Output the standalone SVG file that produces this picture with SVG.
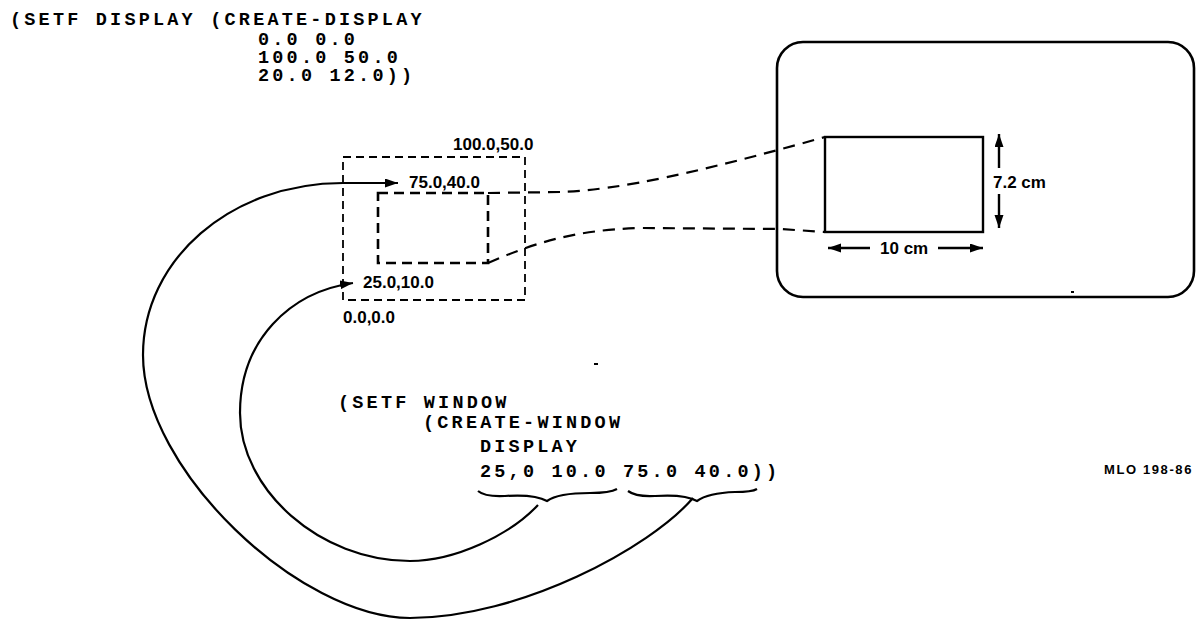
<svg xmlns="http://www.w3.org/2000/svg" width="1196" height="620" viewBox="0 0 1196 620">
<style>
.code{font-family:"Liberation Mono","DejaVu Sans Mono",monospace;font-weight:bold;font-size:18.5px;letter-spacing:3.2px;fill:#000}
.lab{font-family:"Liberation Sans",Arial,sans-serif;font-weight:bold;font-size:17px;fill:#000}
.note{font-family:"Liberation Sans",Arial,sans-serif;font-weight:bold;font-size:13px;letter-spacing:1.6px;fill:#000}
.solid{fill:none;stroke:#000;stroke-width:2.4}
.dashThin{fill:none;stroke:#000;stroke-width:1.8;stroke-dasharray:8 5}
.dashThick{fill:none;stroke:#000;stroke-width:2.6;stroke-dasharray:10 6}
.conn{fill:none;stroke:#000;stroke-width:2.2;stroke-dasharray:12 8}
.curve{fill:none;stroke:#000;stroke-width:2.2}
</style>
<defs>
<marker id="ah" markerUnits="userSpaceOnUse" markerWidth="14" markerHeight="10" refX="13" refY="4.5" orient="auto">
<path d="M0,0 L13,4.5 L0,9 z" fill="#000"/>
</marker>
</defs>
<rect width="1196" height="620" fill="#fff"/>

<g id="display-code">
<text class="code" x="10" y="25">(SETF DISPLAY (CREATE-DISPLAY</text>
<text class="code" x="258" y="45">0.0 0.0</text>
<text class="code" x="258" y="63">100.0 50.0</text>
<text class="code" x="258" y="81">20.0 12.0))</text>
</g>

<g id="display-box">
<rect class="dashThin" x="343" y="157" width="182" height="143"/>
<text class="lab" x="453" y="150">100.0,50.0</text>
<text class="lab" x="343" y="323">0.0,0.0</text>
</g>

<g id="window-box">
<rect class="dashThick" x="378" y="193" width="110" height="70"/>
<text class="lab" x="409" y="188">75.0,40.0</text>
<text class="lab" x="363" y="288">25.0,10.0</text>
</g>

<g id="screen">
<rect x="777" y="42" width="417" height="255" rx="26" ry="26" fill="none" stroke="#000" stroke-width="2.6"/>
<rect class="solid" x="825" y="137" width="158" height="95"/>
<text class="lab" x="993" y="188">7.2 cm</text>
<text class="lab" x="880" y="254">10 cm</text>
<rect x="1071" y="291" width="3" height="2" fill="#000"/>
</g>

<g id="window-code">
<text class="code" x="338" y="408">(SETF WINDOW</text>
<text class="code" x="423" y="428">(CREATE-WINDOW</text>
<text class="code" x="480" y="452">DISPLAY</text>
<text class="code" x="480" y="477">25,0 10.0 75.0 40.0))</text>
<path class="curve" stroke-width="2.6" d="M478,491 Q485,497 505,496 Q535,494 547,501 Q558,493 590,493 Q610,493 617,489"/>
<path class="curve" stroke-width="2.6" d="M628,491 Q636,497 655,496 Q685,494 697,501 Q708,493 735,492 Q752,492 757,489"/>
<rect x="594" y="363" width="4" height="2" fill="#000"/>
</g>

<g id="note">
<text class="note" x="1104" y="474">MLO 198-86</text>
</g>

<g id="connectors">
<path class="conn" d="M488,193 L560,192 C620,190 700,172 825,137"/>
<path class="conn" d="M488,263 C530,245 570,230 640,228 L780,229 L825,232"/>
<path class="curve" marker-end="url(#ah)" d="M693,498 C650,548 520,618 410,618 C300,618 143,470 143,355 C143,260 230,183 343,183 L398,183"/>
<path class="curve" marker-end="url(#ah)" d="M538,505 C510,535 455,561 410,561 C320,561 240,490 240,413 C240,340 290,292 353,283"/>
<line class="solid" x1="999" y1="168" x2="999" y2="134" marker-end="url(#ah)"/>
<line class="solid" x1="999" y1="194" x2="999" y2="228" marker-end="url(#ah)"/>
<line class="solid" x1="870" y1="248" x2="828" y2="248" marker-end="url(#ah)"/>
<line class="solid" x1="938" y1="248" x2="983" y2="248" marker-end="url(#ah)"/>
</g>
</svg>
